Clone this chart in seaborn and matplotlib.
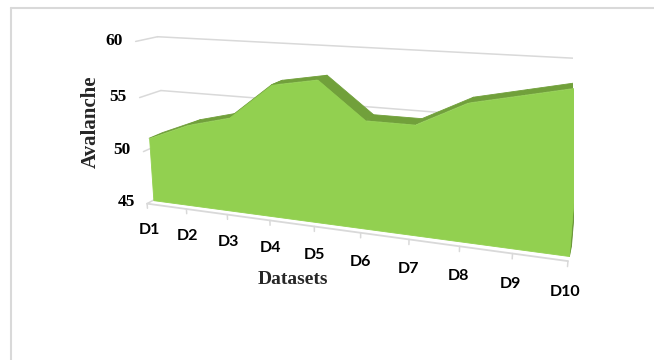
import numpy as np
import matplotlib
matplotlib.use("Agg")
import matplotlib.pyplot as plt
from matplotlib.lines import Line2D
import seaborn as sns
from mpl_toolkits.mplot3d import proj3d
from mpl_toolkits.mplot3d.art3d import Poly3DCollection

# ---- data -------------------------------------------------------------
datasets = ["D1", "D2", "D3", "D4", "D5", "D6", "D7", "D8", "D9", "D10"]
avalanche = [51.0, 52.6, 53.6, 56.8, 57.5, 54.4, 54.4, 56.5, 57.4, 58.3]
value_ticks = [45, 50, 55, 60]

# ---- style ------------------------------------------------------------
sns.set_theme(style="white")
plt.rcParams["font.family"] = ["Liberation Serif", "DejaVu Serif"]

FRONT = "#92D050"
TOP = "#71A03B"
SIDE = "#62902F"
GRID = "#D9D9D9"

# camera of the 3-D area chart
ELEV, AZIM, FOCAL = 15, -70, 0.3
DEPTH, HEIGHT = 0.09, 0.40
AREA_Y0, AREA_Y1 = 0.30, 0.95     # slab of the area inside the depth range

FW, FH = 654, 360
fig = plt.figure(figsize=(FW / 100, FH / 100), dpi=100)
fig.patch.set_facecolor("white")
ax = fig.add_axes([0.2, 0.2, 0.5, 0.5 * FW / FH], projection="3d",
                  computed_zorder=False)
ax.set_proj_type("persp", focal_length=FOCAL)
ax.view_init(elev=ELEV, azim=AZIM)
ax.set_box_aspect((1.0, DEPTH, HEIGHT))
ax.set_axis_off()

xs = np.arange(len(datasets))
vals = np.asarray(avalanche, dtype=float)
xmax = xs[-1]
zmin, zmax = value_ticks[0], value_ticks[-1]

# walls: back-wall and side-wall gridlines, category axis with ticks
for v in value_ticks:
    ax.plot([0, xmax], [1, 1], [v, v], color=GRID, lw=1.1, zorder=1)
    ax.plot([0, 0], [0, 1], [v, v], color=GRID, lw=1.1, zorder=1)
ax.plot([0, xmax], [0, 0], [zmin, zmin], color=GRID, lw=1.3, zorder=4)
for x in xs:
    ax.plot([x, x], [0, 0], [zmin, zmin - 0.45], color=GRID, lw=1.1, zorder=4)

# area slab: top strips, right side, then the front face
top = []
for i in range(len(xs) - 1):
    top.append([(xs[i], AREA_Y0, vals[i]), (xs[i + 1], AREA_Y0, vals[i + 1]),
                (xs[i + 1], AREA_Y1, vals[i + 1]), (xs[i], AREA_Y1, vals[i])])
ax.add_collection3d(Poly3DCollection(top, facecolor=TOP, edgecolor=TOP,
                                     linewidth=0.6, zorder=2))
side = [[(xmax, AREA_Y0, zmin), (xmax, AREA_Y0, vals[-1]),
         (xmax, AREA_Y1, vals[-1]), (xmax, AREA_Y1, zmin)]]
ax.add_collection3d(Poly3DCollection(side, facecolor=SIDE, edgecolor=SIDE,
                                     linewidth=0.6, zorder=2))
front = [(x, AREA_Y0, v) for x, v in zip(xs, vals)]
front += [(xmax, AREA_Y0, zmin), (0, AREA_Y0, zmin)]
ax.add_collection3d(Poly3DCollection([front], facecolor=FRONT,
                                     edgecolor=FRONT, linewidth=0.6, zorder=3))

ax.set_xlim(0, xmax)
ax.set_ylim(0, 1)
ax.set_zlim(zmin, zmax)

# place the projected box on the canvas (pixel anchors, y measured from top)
anchors_3d = [(0, 0, zmin), (xmax, 0, zmin), (0, 1, zmax), (xmax, 1, zmax),
              (0, 0, zmax), (0, AREA_Y0, zmin), (xmax, AREA_Y0, zmin)]
anchors_px = [(147, 201), (568, 266), (160, 34), (584, 62),
              (136, 40), (152, 197), (570, 258)]


def project(points):
    p = np.array(points, dtype=float)
    u, w, _ = proj3d.proj_transform(p[:, 0], p[:, 1], p[:, 2], ax.M)
    return np.column_stack([u, w])


fig.canvas.draw()
disp = ax.transData.transform(project(anchors_3d))
bb = ax.get_position()
L, B, S = bb.x0 * FW, bb.y0 * FH, bb.width * FW
rel = (disp - [L, B]) / S
tgt = np.array([(u, FH - w) for u, w in anchors_px], dtype=float)
rows, rhs = [], []
for (rx, ry), (tx, ty) in zip(rel, tgt):
    rows.append([1, 0, rx]); rhs.append(tx)
    rows.append([0, 1, ry]); rhs.append(ty)
L2, B2, S2 = np.linalg.lstsq(np.array(rows), np.array(rhs), rcond=None)[0]
ax.set_position([L2 / FW, B2 / FH, S2 / FW, S2 / FH])

# tick labels, anchored at projected points of the value and category axes
ytick_xy = project([(-0.32, 0, v) for v in value_ticks])
for (u, w), v in zip(ytick_xy, value_ticks):
    ax.text2D(u, w, str(v), transform=ax.transData, ha="right", va="center",
              fontsize=12.5, fontweight="bold", color="black", zorder=6)
xtick_xy = project([(x, 0, zmin - 2.6) for x in xs])
for (u, w), name in zip(xtick_xy, datasets):
    ax.text2D(u, w, name, transform=ax.transData, ha="center", va="center",
              fontsize=11.5, fontweight="bold", family=["Lato", "DejaVu Sans"],
              color="black", zorder=6)

# axis titles
fig.text(91 / FW, 1 - 122 / FH, "Avalanche", rotation=90, ha="center",
         va="center", fontsize=15, fontweight="bold")
fig.text(293 / FW, 1 - 279 / FH, "Datasets", ha="center", va="center",
         fontsize=14, fontweight="bold")

# chart-area frame
fig.add_artist(Line2D([10.5 / FW, 1.0], [1 - 7.5 / FH, 1 - 7.5 / FH],
                      transform=fig.transFigure, color=GRID, lw=1.5))
fig.add_artist(Line2D([10.5 / FW, 10.5 / FW], [0.0, 1 - 7.5 / FH],
                      transform=fig.transFigure, color=GRID, lw=1.5))

fig.savefig("out.png", dpi=100, facecolor="white")
